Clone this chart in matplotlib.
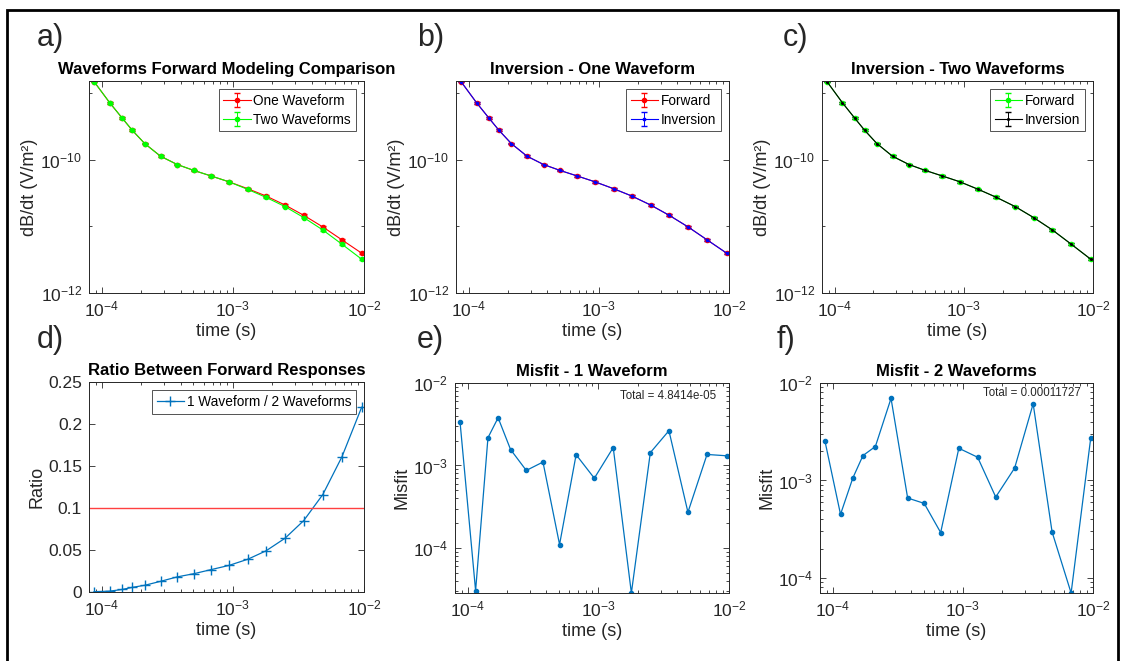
import matplotlib
matplotlib.use('Agg')
import matplotlib.pyplot as plt
from matplotlib.patches import Rectangle
from matplotlib.ticker import LogLocator, NullFormatter, FixedLocator

plt.rcParams['font.family'] = ['Liberation Sans', 'DejaVu Sans']
plt.rcParams['mathtext.default'] = 'regular'

# time gates (s)
times = [8.74e-5, 1.15e-4, 1.43e-4, 1.71e-4, 2.13e-4, 2.81e-4, 3.77e-4, 5.05e-4,
         6.76e-4, 9.32e-4, 1.30e-3, 1.79e-3, 2.50e-3, 3.47e-3, 4.85e-3, 6.79e-3, 9.60e-3]

# forward responses dB/dt (V/m^2)
one_waveform = [1.47e-9, 7.1e-10, 4.19e-10, 2.74e-10, 1.73e-10, 1.12e-10, 8.4e-11, 6.85e-11,
                5.7e-11, 4.64e-11, 3.65e-11, 2.84e-11, 2.08e-11, 1.46e-11, 9.77e-12, 6.25e-12, 3.95e-12]
two_waveforms = [1.47e-9, 7.1e-10, 4.19e-10, 2.74e-10, 1.73e-10, 1.12e-10, 8.4e-11, 6.85e-11,
                 5.7e-11, 4.64e-11, 3.56e-11, 2.71e-11, 1.97e-11, 1.35e-11, 8.8e-12, 5.38e-12, 3.21e-12]
rel_err = 0.03

ratio = [0.0004, 0.001, 0.003, 0.0055, 0.008, 0.0127, 0.018, 0.0218, 0.0265, 0.0316,
         0.039, 0.049, 0.064, 0.085, 0.116, 0.161, 0.220]
ratio_limit = 0.1

misfit_1 = [3.39e-3, 3.03e-5, 2.17e-3, 3.79e-3, 1.56e-3, 8.7e-4, 1.10e-3, 1.10e-4, 1.35e-3,
            7.0e-4, 1.65e-3, 2.84e-5, 1.43e-3, 2.64e-3, 2.71e-4, 1.36e-3, 1.31e-3]
misfit_2 = [2.52e-3, 4.49e-4, 1.06e-3, 1.80e-3, 2.23e-3, 6.95e-3, 6.6e-4, 5.82e-4, 2.92e-4,
            2.14e-3, 1.73e-3, 6.76e-4, 1.34e-3, 6.12e-3, 2.96e-4, 7.0e-5, 2.71e-3]
total_1 = 'Total = 4.8414e-05'
total_2 = 'Total = 0.00011727'

grey = (0.15, 0.15, 0.15)
mblue = (0, 0.447, 0.741)

fig = plt.figure(figsize=(11.23, 6.61), dpi=100)
W, H = 1123, 661


def make_ax(l, t, r, b):
    return fig.add_axes([l / W, 1 - b / H, (r - l) / W, (b - t) / H])


def style(ax, title, ylabel):
    ax.set_xscale('log')
    ax.set_xlim(8e-5, 1e-2)
    ax.xaxis.set_major_locator(FixedLocator([1e-4, 1e-3, 1e-2]))
    ax.xaxis.set_minor_locator(LogLocator(base=10, subs=range(2, 10)))
    ax.xaxis.set_minor_formatter(NullFormatter())
    ax.tick_params(which='both', direction='in', top=True, right=True,
                   colors=grey, labelsize=12.5, width=0.6)
    ax.tick_params(which='major', length=4, pad=5)
    ax.tick_params(which='minor', length=2)
    for s in ax.spines.values():
        s.set_color(grey)
        s.set_linewidth(0.7)
    ax.set_title(title, fontsize=12, fontweight='bold', pad=5)
    ax.set_xlabel('time (s)', fontsize=13, color=grey, labelpad=2)
    ax.set_ylabel(ylabel, fontsize=13, color=grey, labelpad=2)


def style_dbdt(ax):
    ax.set_yscale('log')
    ax.set_ylim(1e-12, 1.5e-9)
    ax.yaxis.set_major_locator(FixedLocator([1e-12, 1e-10]))
    ax.yaxis.set_minor_locator(FixedLocator([1e-11, 1e-9]))
    ax.yaxis.set_minor_formatter(NullFormatter())


def eb(ax, y, color, label, ms=6):
    err = [v * rel_err for v in y]
    ax.errorbar(times, y, yerr=err, color=color, marker='.', ms=ms, lw=0.8,
                capsize=2.5, elinewidth=0.7, label=label)


def legend(ax, handles=None, labels=None):
    if handles is None:
        handles, labels = ax.get_legend_handles_labels()
    lg = ax.legend(handles, labels, loc='upper right', fontsize=9.8, frameon=True,
                   fancybox=False, borderaxespad=0.6, handlelength=2.0,
                   handletextpad=0.2, borderpad=0.35, labelspacing=0.35)
    lg.get_frame().set_edgecolor(grey)
    lg.get_frame().set_linewidth(0.7)


# a)
ax = make_ax(89, 81, 364, 293)
eb(ax, one_waveform, (1, 0, 0), 'One Waveform')
eb(ax, two_waveforms, (0, 1, 0), 'Two Waveforms')
style(ax, 'Waveforms Forward Modeling Comparison', 'dB/dt (V/m²)')
style_dbdt(ax)
legend(ax)

# b)
ax = make_ax(456, 81, 729, 293)
eb(ax, one_waveform, (1, 0, 0), 'Forward')
eb(ax, one_waveform, (0, 0, 1), 'Inversion', ms=3.5)
style(ax, 'Inversion - One Waveform', 'dB/dt (V/m²)')
style_dbdt(ax)
legend(ax)

# c)
ax = make_ax(822, 81, 1093, 293)
eb(ax, two_waveforms, (0, 1, 0), 'Forward')
eb(ax, two_waveforms, (0, 0, 0), 'Inversion', ms=2.5)
style(ax, 'Inversion - Two Waveforms', 'dB/dt (V/m²)')
style_dbdt(ax)
legend(ax)

# d)
ax = make_ax(89, 382, 364, 592)
line, = ax.plot(times, ratio, color=mblue, marker='+', ms=7, lw=0.9)
ax.axhline(ratio_limit, color=(1, 0.25, 0.25), lw=1)
style(ax, 'Ratio Between Forward Responses', 'Ratio')
ax.set_ylim(0, 0.25)
ax.set_yticks([0, 0.05, 0.1, 0.15, 0.2, 0.25])
ax.set_yticklabels(['0', '0.05', '0.1', '0.15', '0.2', '0.25'])
legend(ax, [line], ['1 Waveform / 2 Waveforms'])

# e)
ax = make_ax(455, 383, 729, 593)
ax.plot(times, misfit_1, color=mblue, marker='.', ms=6, lw=0.9)
style(ax, 'Misfit - 1 Waveform', 'Misfit')
ax.set_yscale('log')
ax.set_ylim(min(misfit_1), 1e-2)
ax.yaxis.set_major_locator(FixedLocator([1e-4, 1e-3, 1e-2]))
ax.yaxis.set_minor_formatter(NullFormatter())
ax.text(0.777, 0.94, total_1, transform=ax.transAxes, ha='center', va='center',
        fontsize=8.3, color=grey)

# f)
ax = make_ax(820, 383, 1093, 593)
ax.plot(times, misfit_2, color=mblue, marker='.', ms=6, lw=0.9)
style(ax, 'Misfit - 2 Waveforms', 'Misfit')
ax.set_yscale('log')
ax.set_ylim(min(misfit_2), 1e-2)
ax.yaxis.set_major_locator(FixedLocator([1e-4, 1e-3, 1e-2]))
ax.yaxis.set_minor_formatter(NullFormatter())
ax.text(0.777, 0.952, total_2, transform=ax.transAxes, ha='center', va='center',
        fontsize=8.3, color=grey)

# panel letters
for lab, x, y in [('a)', 37, 38), ('b)', 417, 38), ('c)', 783, 38),
                  ('d)', 37, 340), ('e)', 417, 340), ('f)', 777, 340)]:
    fig.text(x / W, 1 - y / H, lab, fontsize=22, color=grey, ha='left', va='center')

# outer frame
fig.patches.append(Rectangle((7 / W, -0.02), (1118 - 7) / W, 1 - 10 / H + 0.02,
                             transform=fig.transFigure, fill=False, ec='black', lw=2))

fig.savefig('out.png', dpi=100)
